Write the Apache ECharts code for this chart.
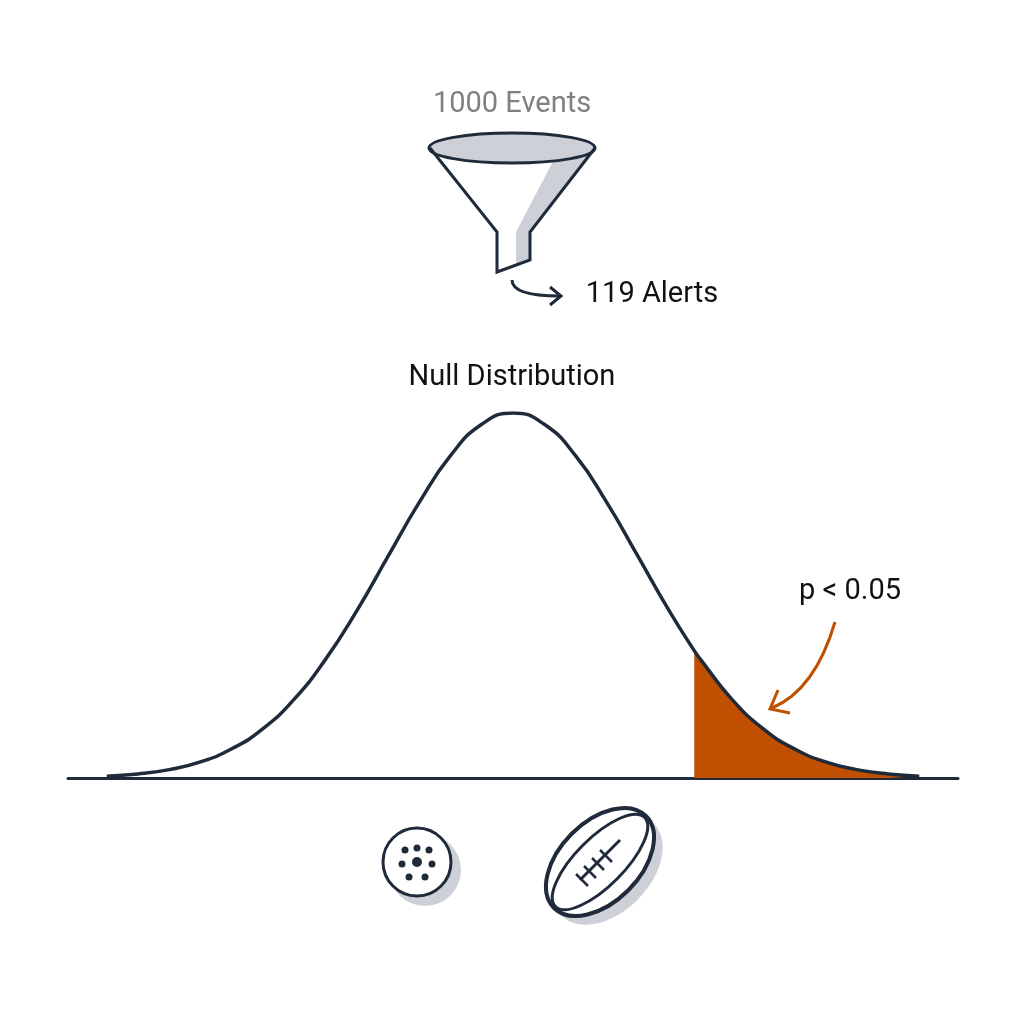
<!DOCTYPE html><html><head><meta charset="utf-8">
<script src="https://cdn.jsdelivr.net/npm/echarts@6/dist/echarts.min.js"></script>
<style>html,body{margin:0;background:#fff}#c{width:1024px;height:1024px}</style></head><body><div id="c"></div>
<script>
// curve readings (x in sigma units, relative height)
const curveX = [-3.25,-3,-2.75,-2.5,-2.25,-2,-1.75,-1.5,-1.25,-1,-0.75,-0.5,-0.25,0,0.25,0.5,0.75,1,1.25,1.45,1.5,1.75,2,2.25,2.5,2.75,3,3.25];
const curveY = [0.005,0.011,0.023,0.044,0.080,0.135,0.216,0.325,0.458,0.607,0.755,0.883,0.969,1,0.969,0.883,0.755,0.607,0.458,0.349,0.325,0.216,0.135,0.080,0.044,0.023,0.011,0.005];
const cutoff = 1.45;
const labels = {top:'1000 Events', alerts:'119 Alerts', title:'Null Distribution', p:'p < 0.05'};

const line = curveX.map((x,i)=>[x,curveY[i]]);
const tail = line.filter(d=>d[0]>=cutoff);
const dark='#1f2a3a', orange='#c05000', shade='#cdd0d6';
const ch = echarts.init(document.getElementById('c'));
const T=(x,y,t,c,s)=>({type:'text',x,y,style:{text:t,fill:c,font:`${s}px Roboto`,textAlign:'center',textVerticalAlign:'middle'}});
const holes=[[-12,-12],[0,-14],[12,-12],[-15,2],[0,0],[15,2],[-8,15],[8,15]];
ch.setOption({
  animation:false,
  grid:{left:68,right:66,top:413,bottom:246},
  xAxis:{type:'value',min:-3.56,max:3.56,axisLine:{show:true,onZero:false,lineStyle:{color:dark,width:3}},axisTick:{show:false},axisLabel:{show:false},splitLine:{show:false}},
  yAxis:{type:'value',min:0,max:1,show:false},
  series:[
    {type:'line',data:tail,smooth:true,symbol:'none',lineStyle:{width:0},areaStyle:{color:orange,opacity:1},z:2},
    {type:'line',data:line,smooth:true,symbol:'none',lineStyle:{color:dark,width:3.5},z:3,
     markLine:{silent:true,symbol:'none',label:{show:false},lineStyle:{color:'#8a8a8a',type:[10,7],width:2.5},data:[[{coord:[cutoff,0]},{coord:[cutoff,1.01]}]]}}
  ],
  graphic:[
    T(512,105,labels.top,'#808080',29),
    T(652,295,labels.alerts,'#111',29),
    T(512,378,labels.title,'#111',29),
    T(850,592,labels.p,'#111',29),
    {type:'polygon',shape:{points:[[560,148],[595,148],[530,232],[530,260],[516,265],[516,232]]},style:{fill:shade}},
    {type:'ellipse',shape:{cx:512,cy:148,rx:83,ry:15},style:{fill:shade,stroke:dark,lineWidth:3}},
    {type:'polyline',shape:{points:[[430,148],[497,232],[497,272],[530,260],[530,232],[595,148]]},style:{fill:'none',stroke:dark,lineWidth:3}},
    {type:'bezierCurve',shape:{x1:512,y1:280,cpx1:512,cpy1:296,x2:560,y2:296},style:{fill:'none',stroke:dark,lineWidth:3}},
    {type:'polyline',shape:{points:[[550,287],[561,296],[550,305]]},style:{fill:'none',stroke:dark,lineWidth:3}},
    {type:'bezierCurve',shape:{x1:835,y1:622,cpx1:815,cpy1:690,x2:772,y2:708},style:{fill:'none',stroke:orange,lineWidth:3}},
    {type:'polyline',shape:{points:[[778,690],[770,709],[790,713]]},style:{fill:'none',stroke:orange,lineWidth:3}},
    {type:'circle',shape:{cx:425,cy:870,r:36},style:{fill:shade}},
    {type:'circle',shape:{cx:417,cy:862,r:34},style:{fill:'#fff',stroke:dark,lineWidth:3}},
    ...holes.map(h=>({type:'circle',shape:{cx:417+h[0],cy:862+h[1],r:h[0]==0&&h[1]==0?5:3.5},style:{fill:dark}})),
    {type:'ellipse',x:608,y:870,rotation:Math.PI/4,shape:{cx:0,cy:0,rx:65,ry:42},style:{fill:shade}},
    {type:'ellipse',x:600,y:862,rotation:Math.PI/4,shape:{cx:0,cy:0,rx:65,ry:40},style:{fill:'#fff',stroke:dark,lineWidth:4}},
    {type:'ellipse',x:600,y:862,rotation:Math.PI/4,shape:{cx:0,cy:0,rx:63,ry:24},style:{fill:'none',stroke:dark,lineWidth:3}},
    {type:'line',shape:{x1:580,y1:880,x2:620,y2:840},style:{stroke:dark,lineWidth:3}},
    ...[-12,-4,4,12].map(d=>({type:'line',shape:{x1:600+d-12,y1:862-d,x2:600+d,y2:862-d+12},style:{stroke:dark,lineWidth:2.5}}))
  ]
});
</script></body></html>
